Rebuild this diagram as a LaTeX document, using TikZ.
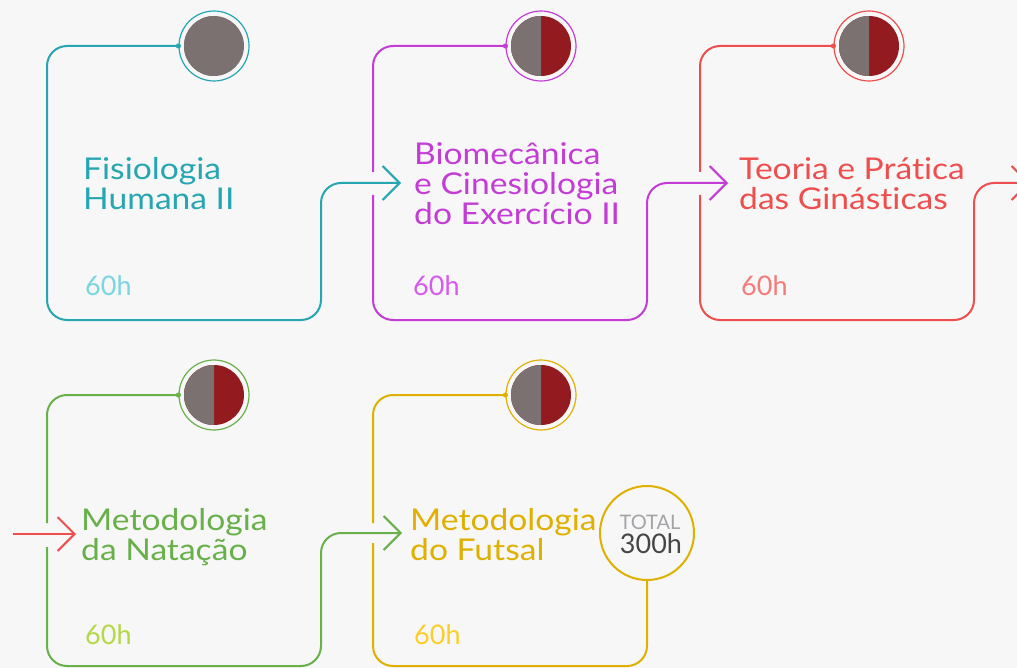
\documentclass[tikz,border=0pt]{standalone}
\usepackage{fontspec}
\setmainfont{Lato}
\newfontfamily\widefont[FakeStretch=1.12, Ligatures=NoCommon]{Lato}
\usepackage{tikz}
\usetikzlibrary{arrows.meta,positioning}

\definecolor{bgGray}{HTML}{F7F7F7}
\definecolor{teal1}{HTML}{26A6B2}
\definecolor{teal2}{HTML}{7AD6E0}
\definecolor{purp1}{HTML}{C43CD6}
\definecolor{purp2}{HTML}{D65AF0}
\definecolor{red1}{HTML}{EE4E4E}
\definecolor{red2}{HTML}{F57A7A}
\definecolor{green1}{HTML}{68B04A}
\definecolor{green2}{HTML}{B5D846}
\definecolor{gold1}{HTML}{E0B000}
\definecolor{gold2}{HTML}{FCCE28}
\definecolor{diskGray}{HTML}{7A7170}
\definecolor{diskRed}{HTML}{931A1E}
\definecolor{totalGray}{HTML}{A4A4A8}
\definecolor{totalDark}{HTML}{464646}

\begin{document}
\begin{tikzpicture}[x=1pt, y=-1pt,
  track/.style={line width=2pt, rounded corners=20pt},
  into/.style={track, -{Straight Barb[length=17pt,width=34pt]}},
  ring/.style={circle, draw, line width=1.2pt, minimum size=70pt, inner sep=0pt},
  title/.style={anchor=base west, align=left, inner sep=0pt,
    font=\widefont\fontsize{30}{30}\selectfont},
  hours/.style={anchor=base west, inner sep=0pt, font=\fontsize{27}{27}\selectfont}
]
\useasboundingbox (0,0) rectangle (1017,668);
\clip (0,0) rectangle (1017,668);
\fill[bgGray] (0,0) rectangle (1017,668);

% Rings with the two-colour disks
\foreach \n/\cx/\cy/\col/\rt in {1/214/46/teal1/diskGray, 2/541/46/purp1/diskRed,
    3/869/46/red1/diskRed, 4/214/395/green1/diskRed, 5/541/395/gold1/diskRed} {
  \node[ring, draw=\col] (ring\n) at (\cx,\cy) {};
  \fill[\rt] (ring\n.center) circle[radius=30];
  \fill[diskGray] (ring\n.center) ++(0,30) arc[start angle=90, end angle=270, radius=30] -- cycle;
  \fill[\col] (ring\n.west) circle[radius=2.6];
}

% Arrow ends
\coordinate (in2) at (401,183);
\coordinate (in3) at (728,183);
\coordinate (out3) at (1030,183);
\coordinate (from3) at (13,534);
\coordinate (in4) at (76,534);
\coordinate (in5) at (402,533);

% Total
\node[circle, draw=gold1, line width=2pt, minimum size=94pt, inner sep=0pt] (total) at (647,533) {};
\node[anchor=base, inner sep=0pt, text=totalGray, font=\fontsize{20}{20}\selectfont] (totlabel) at (650,529) {TOTAL};
\node[anchor=base, inner sep=0pt, text=totalDark, font=\fontsize{27}{27}\selectfont] (tothours) at (651,553) {300h};

% Tracks
\draw[into, teal1] (ring1.west) -| (47,320) -| (321,183) -- (in2);
\draw[track, purp1] (ring2.west) -| (373,172);
\draw[into, purp1] (373,195) |- (647,320) |- (in3);
\draw[track, red1] (ring3.west) -| (700,172);
\draw[into, red1] (700,195) |- (974,320) |- (out3);
\draw[into, red1] (from3) -- (in4);
\draw[track, green1] (ring4.west) -| (47,523);
\draw[into, green1] (47,547) |- (321,666) |- (in5);
\draw[track, gold1] (ring5.west) -| (373,523);
\draw[track, gold1] (373,543) |- (647,666) -- (total.south);

% Titles (anchored at the last line)
\node[title, text=teal1] (title1) at (83,210) {Fisiologia\\Humana II};
\node[title, text=purp1] (title2) at (414,225) {Biomecânica\\e Cinesiologia\\do Exercício II};
\node[title, text=red1] (title3) at (739,210) {Teoria e Prática\\das Ginásticas};
\node[title, text=green1] (title4) at (81,560) {Metodologia\\da Natação};
\node[title, text=gold1] (title5) at (410,560) {Metodologia\\do Futsal};

% Hours
\node[hours, text=teal2] (hours1) at (85,295) {60h};
\node[hours, text=purp2] (hours2) at (413,295) {60h};
\node[hours, text=red2] (hours3) at (741,295) {60h};
\node[hours, text=green2] (hours4) at (85,644) {60h};
\node[hours, text=gold2] (hours5) at (414,644) {60h};
\end{tikzpicture}
\end{document}
